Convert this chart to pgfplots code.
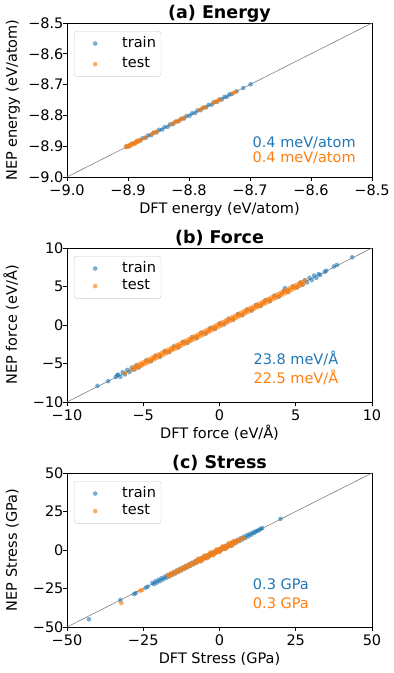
\documentclass[border=0pt]{standalone}
\usepackage{fontspec}
\setmainfont{DejaVu Sans}
\usepackage{pgfplots}
\pgfplotsset{compat=1.18}

\definecolor{tabblue}{RGB}{31,119,180}
\definecolor{taborange}{RGB}{255,127,14}

\newcommand{\fs}{\fontsize{14.5}{16}\selectfont}

\pgfplotsset{
  parity/.style={
    scale only axis, width=305pt, height=154pt,
    anchor=north west,
    axis line style={line width=0.8pt},
    tick align=outside, tick pos=left,
    major tick length=3.5pt,
    every tick/.style={black, line width=0.8pt},
    ticklabel style={font=\fs},
    xticklabel style={anchor=base, yshift=-15.3pt},
    yticklabel style={xshift=3.5pt},
    label style={font=\fs},
    xlabel style={at={(axis description cs:0.5,-0.234)}, anchor=base},
    ylabel style={at={(axis description cs:-0.164,0.5)}, anchor=base, rotate=0},
    every axis title shift=0pt,
    title style={at={(axis description cs:0.5,1)}, anchor=base, yshift=4.4pt,
                 font=\fontsize{17.5}{19}\bfseries\selectfont},
    legend style={at={(axis description cs:0.023,0.948)}, anchor=north west,
                  draw=black!20, rounded corners=2.5pt, fill=white,
                  font=\fs, inner xsep=5pt, inner ysep=5.5pt, row sep=4pt,
                  nodes={font=\fs, inner sep=0pt, text height=10.6pt, text depth=3pt}},
    legend cell align=left,
    legend image code/.code={%
      \path[draw=none, fill=none, use as bounding box] (-16pt,-3pt) rectangle (27pt,3pt);
      \draw[##1] plot coordinates {(0pt,0pt)};},
  },
  trainpts/.style={only marks, mark=*, mark size=2.3pt, color=tabblue,
    mark options={draw opacity=0, fill=tabblue, fill opacity=0.6}},
  testpts/.style={only marks, mark=*, mark size=2.3pt, color=taborange,
    mark options={draw opacity=0, fill=taborange, fill opacity=0.65}},
  diag/.style={black!50, line width=0.6pt, forget plot},
}

\begin{document}
\begin{tikzpicture}
\path[use as bounding box] (0,0) rectangle (394pt,-673pt);

% ---------------- (a) Energy ----------------
\begin{axis}[parity, at={(67pt,-23pt)},
  title={(a) Energy},
  xlabel={DFT energy (eV/atom)}, ylabel={NEP energy (eV/atom)},
  xmin=-9, xmax=-8.5, ymin=-9, ymax=-8.5,
  xtick={-9,-8.9,-8.8,-8.7,-8.6,-8.5},
  xticklabels={−9.0,−8.9,−8.8,−8.7,−8.6,−8.5},
  ytick={-9,-8.9,-8.8,-8.7,-8.6,-8.5},
  yticklabels={−9.0,−8.9,−8.8,−8.7,−8.6,−8.5},
  legend style={row sep=7pt},
]
\addplot[diag] coordinates {(-9,-9) (-8.5,-8.5)};
\addplot[trainpts] coordinates {
(-8.903,-8.901) (-8.898,-8.900) (-8.894,-8.892) (-8.889,-8.891) (-8.885,-8.883)
(-8.880,-8.882) (-8.876,-8.874) (-8.871,-8.873) (-8.867,-8.865) (-8.862,-8.864)
(-8.858,-8.856) (-8.853,-8.855) (-8.849,-8.847) (-8.844,-8.846) (-8.840,-8.838)
(-8.835,-8.837) (-8.831,-8.829) (-8.826,-8.828) (-8.822,-8.820) (-8.817,-8.819)
(-8.813,-8.811) (-8.808,-8.810) (-8.804,-8.802) (-8.799,-8.801) (-8.795,-8.793)
(-8.790,-8.792) (-8.786,-8.784) (-8.781,-8.783) (-8.777,-8.775) (-8.772,-8.774)
(-8.768,-8.766) (-8.763,-8.765) (-8.759,-8.757) (-8.754,-8.756) (-8.750,-8.748)
(-8.746,-8.748) (-8.742,-8.740) (-8.738,-8.740) (-8.734,-8.732) (-8.730,-8.731)
(-8.722,-8.722) (-8.711,-8.711) (-8.699,-8.699)
};
\addlegendentry{train}
\addplot[testpts] coordinates {
(-8.903,-8.903) (-8.901,-8.899) (-8.899,-8.901) (-8.897,-8.896) (-8.895,-8.897)
(-8.893,-8.892) (-8.891,-8.893) (-8.889,-8.888) (-8.887,-8.889) (-8.885,-8.884)
(-8.883,-8.885) (-8.881,-8.880) (-8.879,-8.880) (-8.872,-8.872)
(-8.861,-8.861) (-8.857,-8.856) (-8.853,-8.853)
(-8.828,-8.828) (-8.824,-8.823) (-8.820,-8.820) (-8.817,-8.817)
(-8.812,-8.812) (-8.808,-8.807)
(-8.782,-8.782) (-8.778,-8.777) (-8.774,-8.774)
(-8.760,-8.760) (-8.756,-8.755) (-8.752,-8.752) (-8.749,-8.749)
(-8.728,-8.728) (-8.724,-8.724)
};
\addlegendentry{test}
\node[anchor=base west, text=tabblue, font=\fs] at (axis description cs:0.597,0.19) {0.4 meV/atom};
\node[anchor=base west, text=taborange, font=\fs] at (axis description cs:0.597,0.095) {0.4 meV/atom};
\end{axis}

% ---------------- (b) Force ----------------
\begin{axis}[parity, at={(67pt,-248pt)},
  title={(b) Force},
  xlabel={DFT force (eV/Å)}, ylabel={NEP force (eV/Å)},
  xmin=-10, xmax=10, ymin=-10, ymax=10,
  xtick={-10,-5,0,5,10}, xticklabels={−10,−5,0,5,10},
  ytick={-10,-5,0,5,10}, yticklabels={−10,−5,0,5,10},
]
\addplot[diag] coordinates {(-10,-10) (10,10)};
\addplot[trainpts] coordinates {
(-8.0,-7.9) (-7.3,-7.3) (-6.8,-6.75) (-6.7,-6.5)
(-6.65,-6.45) (-6.5,-6.72) (-6.35,-6.13) (-6.2,-6.42) (-6.05,-5.83) (-5.9,-6.12)
(-5.75,-5.53) (-5.6,-5.82) (-5.45,-5.23) (-5.3,-5.52)
(-4.8,-4.58) (-4.5,-4.72) (-4.2,-3.98) (-3.9,-4.12) (-3.6,-3.38) (-3.3,-3.52)
(-3.0,-2.78) (-2.7,-2.92) (-2.4,-2.18) (-2.1,-2.32) (-1.8,-1.58) (-1.5,-1.72)
(-1.2,-0.98) (-0.9,-1.12) (-0.6,-0.38) (-0.3,-0.52) (0.0,0.22) (0.3,0.08)
(0.6,0.82) (0.9,0.68) (1.2,1.42) (1.5,1.28) (1.8,2.02) (2.1,1.88)
(2.4,2.62) (2.7,2.48) (3.0,3.22) (3.3,3.08) (3.6,3.82) (3.9,3.68)
(4.2,4.42) (4.5,4.28) (4.8,5.02) (5.1,4.88) (4.3,4.8)
(5.3,5.52) (5.45,5.23) (5.6,5.82) (5.75,5.53) (5.9,6.12) (6.05,5.83)
(6.2,6.42) (6.35,6.13) (6.5,6.62) (6.6,6.5)
(6.9,6.9) (7.0,7.05) (7.5,7.6) (7.7,7.8) (8.7,8.8)
};
\addlegendentry{train}
\addplot[testpts] coordinates {
(-6.2,-6.25) (-5.8,-5.85)
(-5.6,-5.42) (-5.4,-5.22) (-5.2,-5.02) (-5.0,-4.82) (-4.8,-4.62) (-4.6,-4.42)
(-4.4,-4.22) (-4.2,-4.02) (-4.0,-3.82) (-3.8,-3.62) (-3.6,-3.42) (-3.4,-3.22)
(-3.2,-3.02) (-3.0,-2.82) (-2.8,-2.62) (-2.6,-2.42) (-2.4,-2.22) (-2.2,-2.02)
(-2.0,-1.82) (-1.8,-1.62) (-1.6,-1.42) (-1.4,-1.22) (-1.2,-1.02) (-1.0,-0.82)
(-0.8,-0.62) (-0.6,-0.42) (-0.4,-0.22) (-0.2,-0.02) (0.0,0.18) (0.2,0.38)
(0.4,0.58) (0.6,0.78) (0.8,0.98) (1.0,1.18) (1.2,1.38) (1.4,1.58)
(1.6,1.78) (1.8,1.98) (2.0,2.18) (2.2,2.38) (2.4,2.58) (2.6,2.78)
(2.8,2.98) (3.0,3.18) (3.2,3.38) (3.4,3.58) (3.6,3.78) (3.8,3.98)
(4.0,4.18) (4.2,4.38) (4.4,4.58) (4.6,4.78) (4.8,4.98) (5.0,5.18)
(5.2,5.38) (5.4,5.58) (5.6,5.78)
(-5.5,-5.68) (-5.3,-5.48) (-5.1,-5.28) (-4.9,-5.08) (-4.7,-4.88) (-4.5,-4.68)
(-4.3,-4.48) (-4.1,-4.28) (-3.9,-4.08) (-3.7,-3.88) (-3.5,-3.68) (-3.3,-3.48)
(-3.1,-3.28) (-2.9,-3.08) (-2.7,-2.88) (-2.5,-2.68) (-2.3,-2.48) (-2.1,-2.28)
(-1.9,-2.08) (-1.7,-1.88) (-1.5,-1.68) (-1.3,-1.48) (-1.1,-1.28) (-0.9,-1.08)
(-0.7,-0.88) (-0.5,-0.68) (-0.3,-0.48) (-0.1,-0.28) (0.1,-0.08) (0.3,0.12)
(0.5,0.32) (0.7,0.52) (0.9,0.72) (1.1,0.92) (1.3,1.12) (1.5,1.32)
(1.7,1.52) (1.9,1.72) (2.1,1.92) (2.3,2.12) (2.5,2.32) (2.7,2.52)
(2.9,2.72) (3.1,2.92) (3.3,3.12) (3.5,3.32) (3.7,3.52) (3.9,3.72)
(4.1,3.92) (4.3,4.12) (4.5,4.32) (4.7,4.52) (4.9,4.72) (5.1,4.92)
(5.3,5.12) (5.5,5.32)
(-5.5,-5.5) (-5.1,-5.1) (-4.7,-4.7) (-4.3,-4.3) (-3.9,-3.9) (-3.5,-3.5)
(-3.1,-3.1) (-2.7,-2.7) (-2.3,-2.3) (-1.9,-1.9) (-1.5,-1.5) (-1.1,-1.1)
(-0.7,-0.7) (-0.3,-0.3) (0.1,0.1) (0.5,0.5) (0.9,0.9) (1.3,1.3)
(1.7,1.7) (2.1,2.1) (2.5,2.5) (2.9,2.9) (3.3,3.3) (3.7,3.7)
(4.1,4.1) (4.5,4.5) (4.9,4.9) (5.3,5.3)
};
\addlegendentry{test}
\node[anchor=base west, text=tabblue, font=\fs] at (axis description cs:0.6,0.245) {23.8 meV/Å};
\node[anchor=base west, text=taborange, font=\fs] at (axis description cs:0.6,0.121) {22.5 meV/Å};
\end{axis}

% ---------------- (c) Stress ----------------
\begin{axis}[parity, at={(67pt,-473pt)},
  title={(c) Stress},
  xlabel={DFT Stress (GPa)}, ylabel={NEP Stress (GPa)},
  xmin=-50, xmax=50, ymin=-50, ymax=50,
  xtick={-50,-25,0,25,50}, xticklabels={−50,−25,0,25,50},
  ytick={-50,-25,0,25,50}, yticklabels={−50,−25,0,25,50},
]
\addplot[diag] coordinates {(-50,-50) (50,50)};
\addplot[trainpts] coordinates {
(-42.8,-45.0) (-32.5,-32.5) (-28.0,-28.6) (-27.4,-27.9) (-24.2,-24.5) (-23.5,-23.8)
(-22,-21.3) (-21.5,-22.2) (-21,-20.3) (-20.5,-21.2) (-20,-19.3) (-19.5,-20.2)
(-19,-18.3) (-18.5,-19.2) (-18,-17.3) (-17.5,-18.2) (-17,-16.3) (-16.5,-17.2)
(-16,-15.3) (-15.5,-16.2) (-15,-14.3) (-14.5,-15.2) (-14,-13.3) (-13.5,-14.2)
(-13,-12.3) (-12.5,-13.2) (-12,-11.3) (-11.5,-12.2) (-11,-10.3) (-10.5,-11.2)
(-10,-9.3) (-9.5,-10.2) (-9,-8.3) (-8.5,-9.2) (-8,-7.3) (-7.5,-8.2)
(-7,-6.3) (-6.5,-7.2) (-6,-5.3) (-5.5,-6.2) (-5,-4.3) (-4.5,-5.2)
(-4,-3.3) (-3.5,-4.2) (-3,-2.3) (-2.5,-3.2) (-2,-1.3) (-1.5,-2.2)
(-1,-0.3) (-0.5,-1.2) (0,0.7) (0.5,-0.2) (1,1.7) (1.5,0.8)
(2,2.7) (2.5,1.8) (3,3.7) (3.5,2.8) (4,4.7) (4.5,3.8)
(5,5.7) (5.5,4.8) (6,6.7) (6.5,5.8) (7,7.7) (7.5,6.8)
(8,8.7) (8.5,7.8) (9,9.7) (9.5,8.8) (10,10.5) (10.5,10.0)
(11,11.4) (11.5,11.2) (12,12.3) (12.5,12.4) (13,13.2) (13.5,13.6) (14,14.2)
(20.0,20.2)
};
\addlegendentry{train}
\addplot[testpts] coordinates {
(-32.2,-34.5) (-26.0,-26.4) (-25.4,-26.0)
(-17,-16.4) (-16.5,-17.1) (-16,-15.4) (-15.5,-16.1) (-15,-14.4) (-14.5,-15.1)
(-14,-13.4) (-13.5,-14.1) (-13,-12.4) (-12.5,-13.1) (-12,-11.4) (-11.5,-12.1)
(-11,-10.4) (-10.5,-11.1) (-10,-9.4) (-9.5,-10.1) (-9,-8.4) (-8.5,-9.1)
(-8,-7.4) (-7.5,-8.1) (-7,-6.4) (-6.5,-7.1) (-6,-5.4) (-5.5,-6.1)
(-5,-4.4) (-4.5,-5.1) (-4,-3.4) (-3.5,-4.1) (-3,-2.4) (-2.5,-3.1)
(-2,-1.4) (-1.5,-2.1) (-1,-0.4) (-0.5,-1.1) (0,0.6) (0.5,-0.1)
(1,1.6) (1.5,0.9) (2,2.6) (2.5,1.9) (3,3.6) (3.5,2.9)
(4,4.6) (4.5,3.9) (5,5.5) (5.5,5.0) (6,6.4) (6.5,6.1) (7,7.3) (8,7.9)
(-7,-5.6) (-6,-7.4) (-5,-3.6) (-4,-5.4) (-3,-1.6) (-2,-3.4)
(-1,0.4) (0,-1.4) (1,2.4) (2,0.6) (3,4.4) (4,2.6) (4.5,5.6)
};
\addlegendentry{test}
\node[anchor=base west, text=tabblue, font=\fs] at (axis description cs:0.598,0.246) {0.3 GPa};
\node[anchor=base west, text=taborange, font=\fs] at (axis description cs:0.598,0.121) {0.3 GPa};
\end{axis}
\end{tikzpicture}
\end{document}
